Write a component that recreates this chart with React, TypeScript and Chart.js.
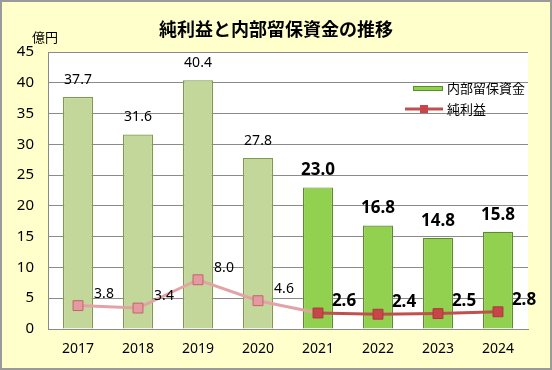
import React, { useEffect, useRef } from "react";
import { Chart, registerables } from "chart.js";

Chart.register(...registerables);

const years = ["2017", "2018", "2019", "2020", "2021", "2022", "2023", "2024"];
const retained = [37.7, 31.6, 40.4, 27.8, 23.0, 16.8, 14.8, 15.8];
const retainedLabels = ["37.7", "31.6", "40.4", "27.8", "23.0", "16.8", "14.8", "15.8"];
const netIncome = [3.8, 3.4, 8.0, 4.6, 2.6, 2.4, 2.5, 2.8];
const netIncomeLabels = ["3.8", "3.4", "8.0", "4.6", "2.6", "2.4", "2.5", "2.8"];
const highlightFrom = 4;
const titleText = "純利益と内部留保資金の推移";
const unitText = "億円";
const legendRetained = "内部留保資金";
const legendNet = "純利益";

const FONT = "'Noto Sans', 'Noto Sans CJK JP', sans-serif";
const JP = "'Noto Sans CJK JP', 'Noto Sans', sans-serif";

const BAR_OLD = "#C4D79B";
const BAR_OLD_BORDER = "#7E9A4A";
const BAR_NEW = "#92D050";
const BAR_NEW_BORDER = "#5C8C2C";
const LINE_OLD = "#E3A3A6";
const LINE_NEW = "#C0504D";
const PT_OLD = "#E49AA0";
const PT_OLD_BORDER = "#C0646A";
const PT_NEW = "#C8454A";
const PT_NEW_BORDER = "#A83A3A";

const decorPlugin = {
  id: "decor",
  beforeDraw(chart: any) {
    const { ctx, chartArea, width, height } = chart;
    ctx.save();
    ctx.fillStyle = "#FFFFCC";
    ctx.fillRect(0, 0, width, height);
    ctx.fillStyle = "#FFFFFF";
    ctx.fillRect(chartArea.left, chartArea.top, chartArea.right - chartArea.left, chartArea.bottom - chartArea.top);
    ctx.strokeStyle = "#9A9A9A";
    ctx.lineWidth = 2;
    ctx.strokeRect(1, 1, width - 2, height - 2);
    ctx.restore();
  },
  afterDraw(chart: any) {
    const { ctx } = chart;
    ctx.save();
    // title
    ctx.fillStyle = "#000";
    ctx.textAlign = "center";
    ctx.textBaseline = "middle";
    ctx.font = `bold 18px ${JP}`;
    ctx.fillText(titleText, 276, 29);
    // unit
    ctx.textAlign = "left";
    ctx.font = `13px ${JP}`;
    ctx.fillText(unitText, 32, 37);

    // bar labels
    const barMeta = chart.getDatasetMeta(1);
    barMeta.data.forEach((el: any, i: number) => {
      const bold = i >= highlightFrom;
      ctx.font = bold ? `bold 17px ${FONT}` : `14px ${FONT}`;
      ctx.textAlign = "center";
      ctx.textBaseline = "middle";
      ctx.fillText(retainedLabels[i], el.x, el.y - 17);
    });
    // line labels
    const lineMeta = chart.getDatasetMeta(0);
    lineMeta.data.forEach((el: any, i: number) => {
      const bold = i >= highlightFrom;
      ctx.font = bold ? `bold 17px ${FONT}` : `14px ${FONT}`;
      ctx.textAlign = "center";
      ctx.textBaseline = "middle";
      ctx.fillText(netIncomeLabels[i], el.x + 26, el.y - 12);
    });

    // legend
    ctx.fillStyle = BAR_NEW;
    ctx.fillRect(413, 86, 30, 5);
    ctx.strokeStyle = BAR_NEW_BORDER;
    ctx.lineWidth = 1;
    ctx.strokeRect(413.5, 86.5, 29, 4);
    ctx.fillStyle = "#000";
    ctx.font = `13px ${JP}`;
    ctx.textAlign = "left";
    ctx.textBaseline = "middle";
    ctx.fillText(legendRetained, 447, 88);

    ctx.strokeStyle = LINE_NEW;
    ctx.lineWidth = 3;
    ctx.beginPath();
    ctx.moveTo(405, 109);
    ctx.lineTo(443, 109);
    ctx.stroke();
    ctx.fillStyle = PT_NEW;
    ctx.fillRect(420, 105, 8, 8);
    ctx.fillStyle = "#000";
    ctx.fillText(legendNet, 447, 109);
    ctx.restore();
  },
};

export default function App() {
  const ref = useRef<HTMLCanvasElement | null>(null);

  useEffect(() => {
    if (!ref.current) return;
    const chart = new Chart(ref.current, {
      type: "bar",
      data: {
        labels: years,
        datasets: [
          {
            type: "line",
            label: legendNet,
            data: netIncome,
            order: 0,
            borderWidth: 3,
            borderColor: LINE_NEW,
            segment: {
              borderColor: (c: any) => (c.p0DataIndex < highlightFrom ? LINE_OLD : LINE_NEW),
            },
            pointStyle: "rect",
            pointRadius: 7,
            pointBorderWidth: 1,
            pointBackgroundColor: netIncome.map((_, i) => (i < highlightFrom ? PT_OLD : PT_NEW)),
            pointBorderColor: netIncome.map((_, i) => (i < highlightFrom ? PT_OLD_BORDER : PT_NEW_BORDER)),
            tension: 0,
          } as any,
          {
            type: "bar",
            label: legendRetained,
            data: retained,
            order: 1,
            backgroundColor: retained.map((_, i) => (i < highlightFrom ? BAR_OLD : BAR_NEW)),
            borderColor: retained.map((_, i) => (i < highlightFrom ? BAR_OLD_BORDER : BAR_NEW_BORDER)),
            borderWidth: 1.2,
            barPercentage: 0.5,
            categoryPercentage: 1,
          },
        ],
      },
      options: {
        responsive: false,
        animation: false,
        layout: { padding: { left: 0, right: 24, top: 52, bottom: 0 } },
        plugins: {
          legend: { display: false },
          title: { display: false },
          tooltip: { enabled: false },
        },
        scales: {
          x: {
            grid: { display: false, drawTicks: false },
            border: { display: true, color: "#8A8A8A", width: 1 },
            ticks: { color: "#000", font: { family: FONT, size: 14 }, padding: 12 },
            afterFit: (s: any) => {
              s.height = 41;
            },
          },
          y: {
            min: 0,
            max: 45,
            ticks: { stepSize: 5, color: "#000", font: { family: FONT, size: 15 }, padding: 14 },
            grid: { color: "#8A8A8A", lineWidth: 1, drawTicks: false },
            border: { display: true, color: "#8A8A8A", width: 1 },
            afterFit: (s: any) => {
              s.width = 48;
            },
          },
        },
      },
      plugins: [decorPlugin],
    } as any);
    return () => chart.destroy();
  }, []);

  return (
    <div style={{ position: "absolute", left: 0, top: 0, width: 552, height: 370 }}>
      <canvas ref={ref} width={552} height={370} style={{ display: "block" }} />
    </div>
  );
}
